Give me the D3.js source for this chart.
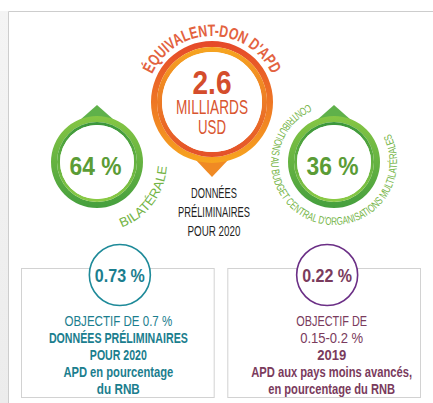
<!DOCTYPE html>
<meta charset="utf-8">
<title>APD 2020</title>
<style>
  body { margin: 0; background: #fff; }
  svg { display: block; font-family: "Liberation Sans", Arial, sans-serif; }
</style>
<body>
<script src="https://cdn.jsdelivr.net/npm/d3@7/dist/d3.min.js"></script>
<script>

var width = 433,
    height = 403;

var totalTitle = "ÉQUIVALENT-DON D'APD";
var totalValue = 2.6;
var totalUnit = ["MILLIARDS", "USD"];
var totalNote = ["DONNÉES", "PRÉLIMINAIRES", "POUR 2020"];

var shareNames = ["BILATÉRALE", "CONTRIBUTIONS AU BUDGET CENTRAL D'ORGANISATIONS MULTILATÉRALES"];
var shareValues = [64, 36];

var ratioValues = [0.73, 0.22];
var ratioLines = [
  ["OBJECTIF DE 0.7 %", "DONNÉES PRÉLIMINAIRES", "POUR 2020", "APD en pourcentage", "du RNB"],
  ["OBJECTIF DE", "0.15-0.2 %", "2019", "APD aux pays moins avancés,", "en pourcentage du RNB"]
];

var svg = d3.select("body").append("svg")
    .attr("width", width)
    .attr("height", height);

var defs = svg.append("defs");

function vgrad(id, top, bottom) {
  var g = defs.append("linearGradient").attr("id", id)
      .attr("x1", 0).attr("y1", 0).attr("x2", 0).attr("y2", 1);
  g.append("stop").attr("offset", "0%").attr("stop-color", top);
  g.append("stop").attr("offset", "100%").attr("stop-color", bottom);
}
vgrad("orOut", "#e5482a", "#f7a51f");
vgrad("orIn", "#f6a620", "#e4502a");
vgrad("grOut", "#86c644", "#459f3e");
vgrad("grIn", "#3a963b", "#8ccb45");
vgrad("side", "#f4f4f4", "#ececec");

// squeeze a centred text horizontally to a given width (the original uses a condensed face)
function fit(sel, w) {
  var node = sel.node(),
      len = node.getComputedTextLength(),
      x = +sel.attr("x") || 0,
      k = w / len;
  sel.attr("transform", "translate(" + x + ",0) scale(" + k + ",1) translate(" + (-x) + ",0)");
}

function arcPath(cx, cy, r, a0, a1) {
  var t0 = a0 * Math.PI / 180, t1 = a1 * Math.PI / 180;
  var sweep = a1 > a0 ? 1 : 0,
      large = Math.abs(a1 - a0) > 180 ? 1 : 0;
  return "M" + (cx + r * Math.cos(t0)) + "," + (cy + r * Math.sin(t0)) +
    " A" + r + "," + r + " 0 " + large + " " + sweep + " " +
    (cx + r * Math.cos(t1)) + "," + (cy + r * Math.sin(t1));
}

// frame
svg.append("rect").attr("x", 0).attr("y", 11).attr("width", 8).attr("height", height - 11)
    .attr("fill", "url(#side)");
svg.append("path")
    .attr("d", "M8.5," + height + " V11.5 H" + width)
    .attr("fill", "none").attr("stroke", "#cdcdcd").attr("stroke-width", 1);

var ring = d3.arc().startAngle(0).endAngle(2 * Math.PI);

// ---------- total (orange) ----------
var oc = {x: 212, y: 102, r: 61};
var og = svg.append("g").attr("transform", "translate(" + oc.x + "," + oc.y + ")");

og.append("path")
    .attr("d", "M-17," + (oc.r - 4) + " L0," + (oc.r + 14) + " L17," + (oc.r - 4) + "Z")
    .attr("fill", "#f08a24");
og.append("path").attr("d", ring.innerRadius(oc.r - 6).outerRadius(oc.r)()).attr("fill", "url(#orOut)");
og.append("path").attr("d", ring.innerRadius(oc.r - 11).outerRadius(oc.r - 6)()).attr("fill", "url(#orIn)");
og.append("circle").attr("r", oc.r - 11).attr("fill", "#fff");

og.append("text")
    .attr("y", -8.5).attr("text-anchor", "middle")
    .attr("font-size", 33).attr("font-weight", "bold").attr("fill", "#d44d2c")
    .text(totalValue)
    .call(fit, 39);

og.selectAll(".unit")
    .data(totalUnit)
  .enter().append("text")
    .attr("class", "unit")
    .attr("y", function(d, i) { return 12 + i * 20; })
    .attr("text-anchor", "middle")
    .attr("font-size", 20.5).attr("fill", "#d9552f")
    .text(function(d) { return d; })
    .each(function(d, i) { d3.select(this).call(fit, i ? 28 : 72); });

defs.append("path").attr("id", "titleArc").attr("d", arcPath(oc.x, oc.y, 66, -157, -23));
svg.append("text")
    .attr("font-size", 16.5).attr("font-weight", "bold").attr("fill", "#e3623f")
  .append("textPath")
    .attr("href", "#titleArc").attr("startOffset", "50%").attr("text-anchor", "middle")
    .attr("textLength", 150).attr("lengthAdjust", "spacingAndGlyphs")
    .text(totalTitle);

svg.selectAll(".note")
    .data(totalNote)
  .enter().append("text")
    .attr("class", "note")
    .attr("x", 214).attr("y", function(d, i) { return 198 + i * 19; })
    .attr("text-anchor", "middle")
    .attr("font-size", 15.5).attr("fill", "#1f1f1f")
    .text(function(d) { return d; })
    .each(function(d, i) { d3.select(this).call(fit, [46, 72, 53][i]); });

// ---------- shares (green) ----------
var gx = d3.scalePoint().domain(shareNames).range([97, 334]);
var gr = 46, gy = 162;

var sg = svg.selectAll(".share")
    .data(shareNames)
  .enter().append("g")
    .attr("class", "share")
    .attr("transform", function(d) { return "translate(" + gx(d) + "," + gy + ")"; });

sg.append("path")
    .attr("d", "M-17," + (-gr + 4) + " L0," + (-gr - 11) + " L17," + (-gr + 4) + "Z")
    .attr("fill", "#5fb14a");
sg.append("path").attr("d", ring.innerRadius(gr - 6).outerRadius(gr)()).attr("fill", "url(#grOut)");
sg.append("path").attr("d", ring.innerRadius(gr - 9).outerRadius(gr - 6)()).attr("fill", "url(#grIn)");
sg.append("circle").attr("r", gr - 9).attr("fill", "#fff");

sg.append("text")
    .attr("x", -1.5).attr("y", 13)
    .attr("text-anchor", "middle")
    .attr("font-size", 25).attr("font-weight", "bold").attr("fill", "#5b9c36")
    .text(function(d, i) { return shareValues[i] + " %"; })
    .each(function() { d3.select(this).call(fit, 52); });

// curved labels, letters facing the centre
var labelArcs = [
  {r: 70, a0: 71, a1: 2, len: 80, size: 13},
  {r: 63, a0: 251, a1: -31, len: 300, size: 11}
];
shareNames.forEach(function(name, i) {
  var a = labelArcs[i];
  defs.append("path").attr("id", "shareArc" + i)
      .attr("d", arcPath(gx(name), gy, a.r, a.a0, a.a1));
  svg.append("text")
      .attr("font-size", a.size).attr("fill", "#74b446")
    .append("textPath")
      .attr("href", "#shareArc" + i).attr("startOffset", "50%").attr("text-anchor", "middle")
      .attr("textLength", a.len).attr("lengthAdjust", "spacingAndGlyphs")
      .text(name);
});

// ---------- ratios (boxes) ----------
var boxX = d3.scaleBand().domain(d3.range(ratioValues.length)).range([21, 420]).paddingInner(0.066);
var ratioStroke = ["#1e8a99", "#6b2f86"],
    ratioText = ["#1b7e8e", "#7a3b5d"],
    lineWeights = [["normal", "bold", "bold", "bold", "bold"], ["normal", "normal", "bold", "bold", "bold"]],
    lineWidths = [[108, 139, 57, 110, 43], [71, 63, 29, 161, 127]],
    textShift = [1, 8];

var bg = svg.selectAll(".ratio")
    .data(ratioValues)
  .enter().append("g")
    .attr("class", "ratio")
    .attr("transform", function(d, i) { return "translate(" + boxX(i) + ",268)"; });

bg.append("rect")
    .attr("x", 0.5).attr("y", 0.5)
    .attr("width", boxX.bandwidth()).attr("height", 129)
    .attr("fill", "none").attr("stroke", "#d2d2d2");

bg.append("circle")
    .attr("cx", function(d, i) { return boxX.bandwidth() / 2 + textShift[i] - (i ? 4.5 : -1.5); })
    .attr("cy", 7)
    .attr("r", 30.5)
    .attr("fill", "#fff")
    .attr("stroke", function(d, i) { return ratioStroke[i]; })
    .attr("stroke-width", 1.6);

bg.append("text")
    .attr("x", function(d, i) { return boxX.bandwidth() / 2 + textShift[i] - (i ? 4.5 : -1.5); })
    .attr("y", 14)
    .attr("text-anchor", "middle")
    .attr("font-size", 18).attr("font-weight", "bold")
    .attr("fill", function(d, i) { return ratioText[i]; })
    .text(function(d) { return d3.format(".2f")(d) + " %"; })
    .each(function() { d3.select(this).call(fit, 50); });

bg.each(function(d, i) {
  d3.select(this).selectAll(".line")
      .data(ratioLines[i])
    .enter().append("text")
      .attr("class", "line")
      .attr("x", boxX.bandwidth() / 2 + textShift[i])
      .attr("y", function(t, j) { return 58.5 + j * 17; })
      .attr("text-anchor", "middle")
      .attr("font-size", 15)
      .attr("font-weight", function(t, j) { return lineWeights[i][j]; })
      .attr("fill", ratioText[i])
      .text(function(t) { return t; })
      .each(function(t, j) { d3.select(this).call(fit, lineWidths[i][j]); });
});

</script>
